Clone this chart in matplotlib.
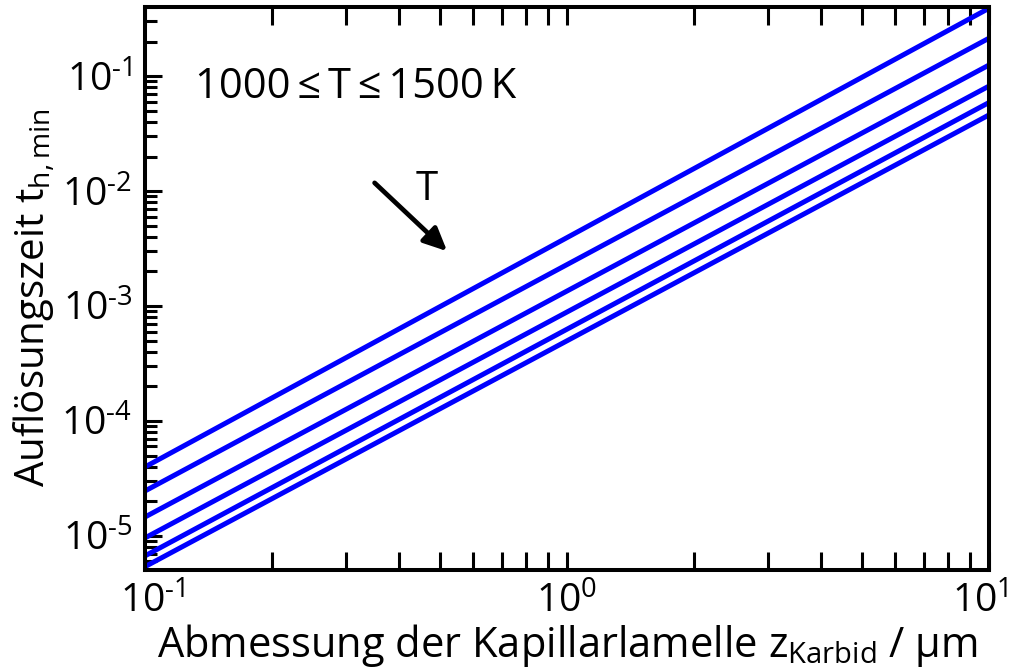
import math
import matplotlib
matplotlib.use("Agg")
import matplotlib.pyplot as plt
from matplotlib.ticker import LogLocator, FuncFormatter, NullFormatter
from matplotlib.transforms import ScaledTranslation

plt.rcParams["font.family"] = ["Open Sans", "DejaVu Sans"]
plt.rcParams["mathtext.fontset"] = "custom"
plt.rcParams["mathtext.rm"] = "Open Sans"
plt.rcParams["mathtext.it"] = "Open Sans"
plt.rcParams["axes.unicode_minus"] = False

# Dissolution time vs. carbide lamella size, one line per temperature
temperatures_K = [1000, 1100, 1200, 1300, 1400, 1500]
z_ends_um = [0.1, 10.0]
t_at_z_min = [3.98e-5, 2.46e-5, 1.46e-5, 9.6e-6, 6.7e-6, 5.4e-6]
t_at_z_max = [0.39, 0.214, 0.125, 0.082, 0.059, 0.046]

fig = plt.figure(figsize=(10.11, 6.72), dpi=100)
ax = fig.add_axes([145 / 1011, 1 - 570 / 672, (989 - 145) / 1011, (570 - 7) / 672])

for T, t0, t1 in zip(temperatures_K, t_at_z_min, t_at_z_max):
    ax.plot(z_ends_um, [t0, t1], color="#0000ff", lw=3.6,
            solid_capstyle="butt", label=f"{T} K")

ax.set_xscale("log")
ax.set_yscale("log")
ax.set_xlim(0.1, 10)
ax.set_ylim(5.05e-6, 0.4)


def pow10(v, pos):
    e = int(round(math.log10(v)))
    sign = "\u2010" if e < 0 else ""
    return r"$\mathregular{10^{%s%d}}$" % (sign, abs(e))


ax.xaxis.set_major_locator(LogLocator(base=10, numticks=10))
ax.yaxis.set_major_locator(LogLocator(base=10, numticks=10))
ax.xaxis.set_minor_locator(LogLocator(base=10, subs=range(2, 10), numticks=20))
ax.yaxis.set_minor_locator(LogLocator(base=10, subs=range(2, 10), numticks=20))
ax.xaxis.set_major_formatter(FuncFormatter(pow10))
ax.yaxis.set_major_formatter(FuncFormatter(pow10))
ax.xaxis.set_minor_formatter(NullFormatter())
ax.yaxis.set_minor_formatter(NullFormatter())

for s in ax.spines.values():
    s.set_linewidth(2.9)

ax.tick_params(axis="x", which="both", direction="in", top=True, bottom=True,
               length=13, width=2.2, labelsize=28, pad=9)
ax.tick_params(axis="y", which="major", direction="in", left=True, right=False,
               length=12.5, width=2.2, labelsize=28, pad=9)
ax.tick_params(axis="y", which="minor", direction="in", left=True, right=False,
               length=8.5, width=2.2)

ax.set_xlabel(r"Abmessung der Kapillarlamelle z$_{\mathrm{Karbid}}$ / µm",
              fontsize=30, labelpad=0)
ax.set_ylabel(r"Auflösungszeit t$_{\mathrm{h,min}}$", fontsize=29)
ax.yaxis.set_label_coords(-0.103, 0.483)

# nudge the outer x tick labels so the last one stays inside the figure
fig.canvas.draw()
for tick in ax.xaxis.get_major_ticks():
    loc = tick.get_loc()
    if abs(loc - 0.1) < 1e-9:
        dx = 0.08
    elif abs(loc - 10) < 1e-9:
        dx = -0.09
    else:
        continue
    tick.label1.set_transform(tick.label1.get_transform()
                              + ScaledTranslation(dx, 0, fig.dpi_scale_trans))

ax.text(0.059, 0.858, "1000\u2009≤\u2009T\u2009≤\u20091500\u2009K",
        transform=ax.transAxes, fontsize=30, ha="left", va="center")

ax.annotate("", xy=(0.52, 0.0030), xytext=(0.35, 0.0118),
            arrowprops=dict(arrowstyle="-|>,head_length=1.4,head_width=0.65",
                            color="black", lw=3.4, shrinkA=0, shrinkB=0))
ax.text(0.465, 0.0102, "T", fontsize=29, ha="center", va="center")

fig.savefig("out.png", dpi=100)
